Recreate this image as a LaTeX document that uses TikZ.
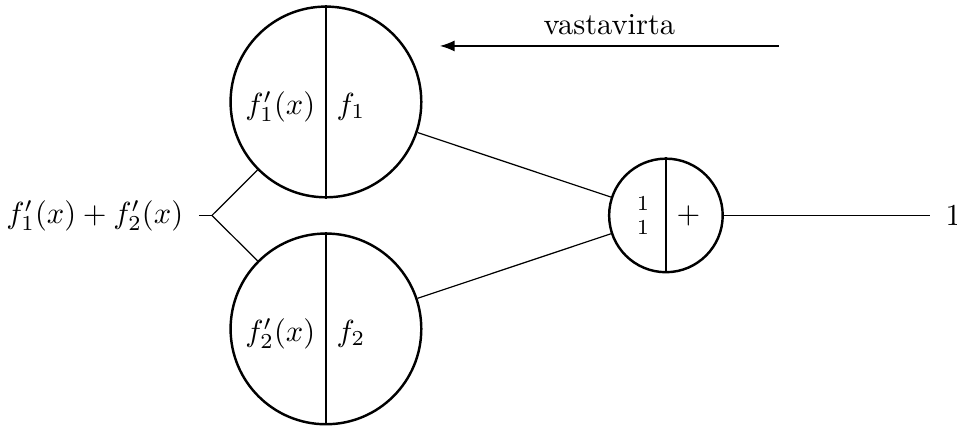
\documentclass[tikz,border=0pt]{standalone}
\usepackage{amsmath, amssymb}
\usepackage{tikz}
\usetikzlibrary{arrows.meta}

\begin{document}
\begin{tikzpicture}[
    neuron/.style={draw, thick, circle, inner sep=0pt, minimum size=2.2cm},
    sumnode/.style={draw, thick, circle, inner sep=0pt, minimum size=1.31cm},
    endlabel/.style={inner sep=5pt}
]
            \useasboundingbox (0,0) rectangle (11.04,4.913);

            % Neurons
            \node[neuron] (n1) at (3.76, 3.737) {};
            \node[neuron] (n2) at (3.76, 1.119) {};
            \node[sumnode] (s) at (7.682, 2.428) {};
            \draw[thick] (n1.north) -- (n1.south);
            \draw[thick] (n2.north) -- (n2.south);
            \draw[thick] (s.north) -- (s.south);

            % Halves
            \node[anchor=east, yshift=-1.5pt] (n1l) at (n1.center) {$f_1'(x)$};
            \node[anchor=west, yshift=-1.5pt] (n1r) at (n1.center) {$f_1$};
            \node[anchor=east, yshift=-1.5pt] (n2l) at (n2.center) {$f_2'(x)$};
            \node[anchor=west, yshift=-1.5pt] (n2r) at (n2.center) {$f_2$};
            \node[anchor=east, xshift=-2pt, font=\scriptsize, align=center] (sl) at (s.center) {1\\1};
            \node[anchor=west] (sr) at (s.center) {$+$};

            % Input and output
            \node[endlabel, anchor=east] (in) at (2.295, 2.428) {$f_1'(x) + f_2'(x)$};
            \coordinate (fork) at (2.445, 2.428);
            \node[endlabel, anchor=west] (out) at (10.726, 2.428) {$1$};
            \draw (in.east) -- (fork);
            \draw (fork) -- (n1);
            \draw (fork) -- (n2);
            \draw (n1) -- (s);
            \draw (n2) -- (s);
            \draw (s) -- (out);

            % Backward direction
            \coordinate (vs) at (8.985, 4.383);
            \coordinate (ve) at (5.075, 4.383);
            \draw[-{Latex}] (vs) -- node[midway, above] (vlabel) {vastavirta} (ve);
\end{tikzpicture}
\end{document}
